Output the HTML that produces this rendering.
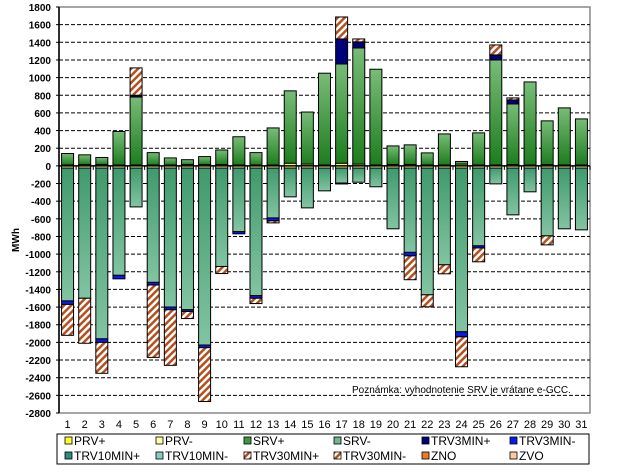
<!DOCTYPE html>
<html><head><meta charset="utf-8"><style>
body{margin:0;background:#fff;font-family:"Liberation Sans",sans-serif}
svg text{font-family:"Liberation Sans",sans-serif}
</style></head><body>
<svg id="c" width="619" height="470" xmlns="http://www.w3.org/2000/svg">
<defs>
<linearGradient id="gP" x1="0" y1="0" x2="0" y2="1"><stop offset="0" stop-color="#78bc78"/><stop offset="1" stop-color="#1d7d1d"/></linearGradient>
<linearGradient id="gN" x1="0" y1="0" x2="0" y2="1"><stop offset="0" stop-color="#3f9a6c"/><stop offset="1" stop-color="#82c4a2"/></linearGradient>
<pattern id="hatch" width="5" height="5" patternUnits="userSpaceOnUse" patternTransform="rotate(45)"><rect width="5" height="5" fill="#fff"/><rect width="2.5" height="5" fill="#b5501c"/></pattern>
</defs>
</svg>
<script>
const days=[1,2,3,4,5,6,7,8,9,10,11,12,13,14,15,16,17,18,19,20,21,22,23,24,25,26,27,28,29,30,31];
const prvPlus=[10,15,15,10,10,10,10,15,15,15,10,10,10,30,20,10,30,20,10,15,15,10,10,20,10,10,15,10,15,10,10];
const srvPlus=[130,110,80,380,770,140,80,55,90,165,320,140,420,820,590,1040,1125,1316,1085,211,223,137,352,30,364,1190,687,941,495,647,522];
const trv3Plus=[0,0,0,0,20,0,0,0,0,0,0,0,0,0,0,0,283,69,0,0,0,0,0,0,0,57,45,0,0,0,0];
const trv30Plus=[0,0,0,0,310,0,0,0,0,0,0,0,0,0,0,0,249,33,0,0,0,0,0,0,0,113,23,0,0,0,0];
const prvMinus=[25,25,25,25,25,25,25,25,25,25,25,25,25,25,25,25,25,25,25,25,25,25,25,25,25,25,25,25,25,25,25];
const srvMinus=[1505,1475,1935,1215,440,1295,1575,1605,2005,1115,720,1445,565,326,451,258,170,160,212,688,955,1436,1096,1855,881,179,530,269,768,688,700];
const trv3Minus=[40,0,40,40,0,30,30,20,30,0,25,30,33,0,0,0,10,0,0,0,40,0,0,57,24,0,0,0,0,0,0];
const trv30Minus=[350,510,350,0,0,820,630,80,610,80,0,60,23,0,0,0,0,0,0,0,270,136,102,339,157,0,0,0,102,0,0];
const yTicks=[1800,1600,1400,1200,1000,800,600,400,200,0,-200,-400,-600,-800,-1000,-1200,-1400,-1600,-1800,-2000,-2200,-2400,-2600,-2800];

const svg=document.getElementById('c');
const NS='http://www.w3.org/2000/svg';
const X0=59,X1=590,Y0=7,Y1=413,VMAX=1800,VMIN=-2800;
const y=v=>Y0+(VMAX-v)/(VMAX-VMIN)*(Y1-Y0);
const bw=(X1-X0)/days.length;
const xc=i=>X0+bw*(i+0.5);
function el(t,a,p){const e=document.createElementNS(NS,t);for(const k in a)e.setAttribute(k,a[k]);(p||svg).appendChild(e);return e;}

// frame
const fr=el('rect',{x:X0,y:Y0,width:X1-X0,height:Y1-Y0,fill:'none',stroke:'#888','stroke-width':1.5});


yTicks.forEach(v=>{
  if(v!==VMAX&&v!==VMIN&&v!==0){
    const g=el('line',{x1:X0,x2:X1,y1:y(v),y2:y(v),stroke:'#000','stroke-dasharray':'4,2','stroke-width':1});
    
    
  }
  const t=el('text',{x:51,y:y(v)+4,'text-anchor':'end','font-size':10,'font-weight':'bold',fill:'#000'});
  t.textContent=v;
  
  
  el('line',{x1:X0-3,x2:X0,y1:y(v),y2:y(v),stroke:'#000'});
});
const ya=el('line',{x1:X0,x2:X0,y1:Y0,y2:Y1,stroke:'#000','stroke-width':1.5});


const yt=el('text',{x:0,y:0,transform:'translate(19,240) rotate(-90)','text-anchor':'middle','font-size':10,'font-weight':'bold'});
yt.textContent='MWh';



function seg(i,a,b,fill,name){
  if(b===a)return;
  const top=Math.min(y(a),y(b)),h=Math.abs(y(a)-y(b));
  const r=el('rect',{x:xc(i)-6,y:top,width:12,height:h,fill:fill,stroke:'#000','stroke-width':1});
  
  
}
days.forEach((d,i)=>{
  let c=0;
  seg(i,c,c+prvPlus[i],'#ffff33','bar-prv-plus');c+=prvPlus[i];
  seg(i,c,c+srvPlus[i],'url(#gP)','bar-srv-plus');c+=srvPlus[i];
  seg(i,c,c+trv3Plus[i],'#00007a','bar-trv3min-plus');c+=trv3Plus[i];
  seg(i,c,c+trv30Plus[i],'url(#hatch)','bar-trv30min-plus');
  c=0;
  seg(i,c,c-prvMinus[i],'#ffffa8','bar-prv-minus');c-=prvMinus[i];
  seg(i,c,c-srvMinus[i],'url(#gN)','bar-srv-minus');c-=srvMinus[i];
  seg(i,c,c-trv3Minus[i],'#0a1ae8','bar-trv3min-minus');c-=trv3Minus[i];
  seg(i,c,c-trv30Minus[i],'url(#hatch)','bar-trv30min-minus');
  const t=el('text',{x:xc(i),y:428,'text-anchor':'middle','font-size':11});
  t.textContent=d;
  
  
  el('line',{x1:X0+bw*(i+1),x2:X0+bw*(i+1),y1:y(0),y2:y(0)+4,stroke:'#000'});
});
const za=el('line',{x1:X0,x2:X1,y1:y(0),y2:y(0),stroke:'#000','stroke-width':1.5});


const note=el('text',{x:352,y:393,'font-size':10});
note.textContent='Poznámka: vyhodnotenie SRV je vrátane e-GCC.';



// legend
const lg=el('rect',{x:57,y:434,width:532,height:30,fill:'#fff',stroke:'#000','stroke-width':1});


const legNames=['PRV+','PRV-','SRV+','SRV-','TRV3MIN+','TRV3MIN-','TRV10MIN+','TRV10MIN-','TRV30MIN+','TRV30MIN-','ZNO','ZVO'];
const legFills=['#ffff33','#ffffa8','#3c9a3c','#70b890','#00007a','#0a1ae8','#2f8a80','#8cc8c0','url(#hatch)','url(#hatch)','#f07a20','#ffc8a0'];
const legX=[65,156,244,334,422,510];
legNames.forEach((n,k)=>{
  const cx=legX[k%6],cy=k<6?441:456;
  const m=el('rect',{x:cx,y:cy-4,width:7,height:7,fill:legFills[k],stroke:'#000','stroke-width':0.8});
  
  
  const t=el('text',{x:cx+9,y:cy+4,'font-size':12});
  t.textContent=n;
  
  
});
</script>
</body></html>
